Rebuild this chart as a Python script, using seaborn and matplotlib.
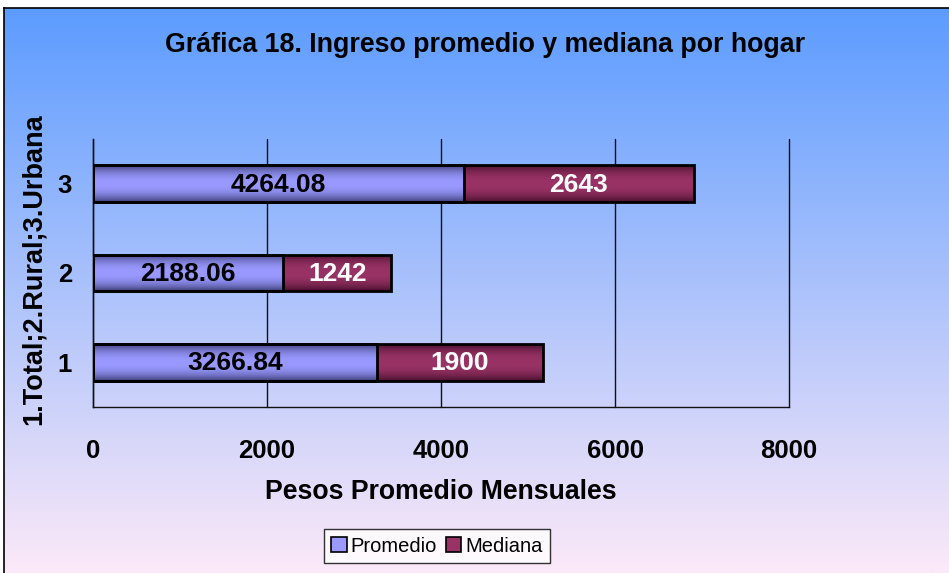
import numpy as np
import pandas as pd
import matplotlib
matplotlib.use("Agg")
import matplotlib.pyplot as plt
import seaborn as sns
from matplotlib.colors import to_rgb
from matplotlib.patches import Patch

# ---- data ----
categories = ["1", "2", "3"]
promedio = [3266.84, 2188.06, 4264.08]
mediana = [1900, 1242, 2643]
series_names = ["Promedio", "Mediana"]
xticks = [0, 2000, 4000, 6000, 8000]
title = "Gráfica 18. Ingreso promedio y mediana por hogar"
xlabel = "Pesos Promedio Mensuales"
ylabel = "1.Total;2.Rural;3.Urbana"

sns.set_theme(style="white")
plt.rcParams['font.family'] = ['Liberation Sans', 'DejaVu Sans']
plt.rcParams['text.color'] = 'black'
plt.rcParams['axes.labelcolor'] = 'black'
plt.rcParams['xtick.color'] = 'black'
plt.rcParams['ytick.color'] = 'black'

W, H = 949, 573
fig = plt.figure(figsize=(W / 100, H / 100), dpi=100)
fig.patch.set_facecolor("white")

# background gradient panel
bg = fig.add_axes([4 / W, 0, 1 - 4 / W, 1 - 8 / H], zorder=-10)
top_c = np.array(to_rgb("#5c9cff"))
bot_c = np.array(to_rgb("#fce9f8"))
t = np.linspace(0, 1, 256)[:, None]
grad = (top_c[None, :] * (1 - t) + bot_c[None, :] * t)[:, None, :]
bg.imshow(grad, aspect="auto", extent=[0, 1, 0, 1], origin="upper")
bg.set_xlim(0, 1); bg.set_ylim(0, 1)
bg.set_xticks([]); bg.set_yticks([])
for s in ["bottom", "right"]:
    bg.spines[s].set_visible(False)
for s in ["top", "left"]:
    bg.spines[s].set_visible(True)
    bg.spines[s].set_color("black")
    bg.spines[s].set_linewidth(1.2)

# main axes
ax = fig.add_axes([93 / W, 166 / H, 696 / W, 268 / H])
ax.patch.set_alpha(0)

df = pd.DataFrame({"cat": categories, "Promedio": promedio, "Mediana": mediana})
df["total"] = df["Promedio"] + df["Mediana"]
order = ["3", "2", "1"]

prom_mid, prom_dark = np.array(to_rgb("#9999ff")), np.array(to_rgb("#3f3f78"))
med_mid, med_dark = np.array(to_rgb("#993366")), np.array(to_rgb("#4a112e"))

sns.barplot(data=df, y="cat", x="total", order=order, orient="h",
            color=med_mid, width=0.41, edgecolor="black", linewidth=2.0, ax=ax)
n_med = len(ax.patches)
sns.barplot(data=df, y="cat", x="Promedio", order=order, orient="h",
            color=prom_mid, width=0.41, edgecolor="black", linewidth=2.0, ax=ax)

s = np.linspace(0, 1, 64)
k = np.abs(2 * s - 1) ** 2.2
for i, p in enumerate(ax.patches):
    mid, dark = (med_mid, med_dark) if i < n_med else (prom_mid, prom_dark)
    g = (mid[None, :] * (1 - k[:, None]) + dark[None, :] * k[:, None])[:, None, :]
    x0, y0 = p.get_x(), p.get_y()
    w, h = p.get_width(), p.get_height()
    im = ax.imshow(g, aspect="auto", extent=[x0, x0 + w, y0 + h, y0],
                   origin="upper", zorder=2.3 if i < n_med else 2.4,
                   interpolation="bilinear")
    im.set_clip_path(p)
    p.set_facecolor("none")
    p.set_zorder(3)

# value labels
pos = {c: i for i, c in enumerate(order)}
for c, pv, mv in zip(categories, promedio, mediana):
    yv = pos[c]
    ax.text(pv / 2, yv + 0.01, f"{pv:.2f}", ha="center", va="center",
            fontsize=19, fontweight="bold", color="black", zorder=5)
    ax.text(pv + mv / 2, yv + 0.01, f"{mv:g}", ha="center", va="center",
            fontsize=19, fontweight="bold", color="white", zorder=5)

ax.set_xlim(0, 8000)
ax.set_ylim(2.5, -0.5)
ax.set_xticks(xticks)
ax.set_xticklabels([str(v) for v in xticks])
ax.xaxis.grid(True, color="#111111", linewidth=1.0)
ax.yaxis.grid(False)
ax.set_axisbelow(True)
for gl in ax.get_xgridlines():
    gl.set_clip_on(False)
for sname in ["top", "right"]:
    ax.spines[sname].set_visible(False)
for sname in ["left", "bottom"]:
    ax.spines[sname].set_visible(True)
    ax.spines[sname].set_color("#111111")
    ax.spines[sname].set_linewidth(1.0)
ax.tick_params(axis="x", length=7, width=1, color="#111111", direction="out",
               pad=16, labelsize=18.5)
ax.tick_params(axis="y", length=0, pad=15, labelsize=18.5)
for lab in ax.get_xticklabels() + ax.get_yticklabels():
    lab.set_fontweight("bold")

ax.set_xlabel(xlabel, fontsize=19.2, fontweight="bold")
ax.xaxis.set_label_coords(0.5, -0.27)
ax.set_ylabel(ylabel, fontsize=19.5, fontweight="bold")
ax.yaxis.set_label_coords(-0.067, 0.513)

fig.text(485 / W, 1 - 45 / H, title, ha="center", va="center",
         fontsize=19.3, fontweight="bold")

handles = [Patch(facecolor=prom_mid, edgecolor="black", linewidth=1.2),
           Patch(facecolor=med_mid, edgecolor="black", linewidth=1.2)]
leg = fig.legend(handles, series_names, loc="center",
                 bbox_to_anchor=(437 / W, 1 - 546 / H), ncol=2,
                 fontsize=14.5, frameon=True, fancybox=False,
                 handlelength=0.75, handleheight=0.75, handletextpad=0.2,
                 columnspacing=0.45, borderpad=0.35)
leg.get_frame().set_edgecolor("black")
leg.get_frame().set_linewidth(1.0)
leg.get_frame().set_facecolor("white")

fig.savefig("out.png", dpi=100)
